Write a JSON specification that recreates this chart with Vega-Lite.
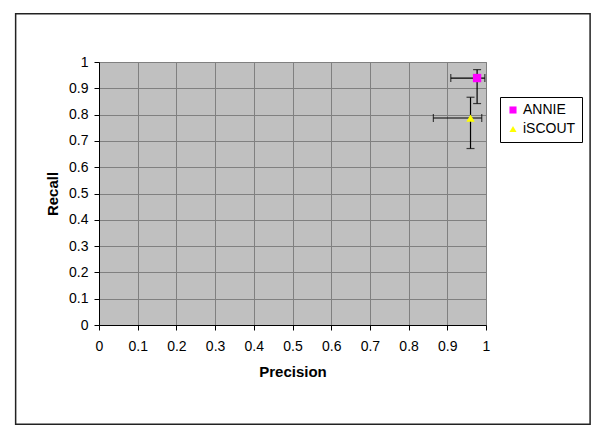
{
  "$schema": "https://vega.github.io/schema/vega-lite/v6.json",
  "width": 387,
  "height": 263,
  "autosize": {"type": "none"},
  "padding": {"left": 99, "top": 62, "right": 114, "bottom": 110},
  "background": "white",
  "config": {
    "font": "Liberation Sans",
    "view": {"fill": "#C0C0C0", "stroke": "#808080", "strokeWidth": 1},
    "axis": {
      "labelFont": "Liberation Sans",
      "labelFontSize": 14,
      "labelColor": "black",
      "titleFont": "Liberation Sans",
      "titleFontSize": 15,
      "titleFontWeight": "bold",
      "titleColor": "black",
      "domainColor": "black",
      "domainWidth": 1,
      "tickColor": "black",
      "tickSize": 5,
      "grid": true,
      "gridColor": "#808080",
      "gridWidth": 1,
      "gridOpacity": 1,
      "labelOverlap": false
    }
  },
  "data": {
    "values": [
      {"system": "ANNIE", "precision": 0.977, "recall": 0.939, "pLow": 0.909, "pHigh": 0.997, "rLow": 0.842, "rHigh": 0.971},
      {"system": "iSCOUT", "precision": 0.960, "recall": 0.787, "pLow": 0.864, "pHigh": 0.989, "rLow": 0.671, "rHigh": 0.866}
    ]
  },
  "encoding": {
    "x": {"type": "quantitative",
      "scale": {"domain": [0, 1], "nice": false, "zero": false},
      "axis": {"title": "Precision", "grid": true, "values": [0, 0.1, 0.2, 0.3, 0.4, 0.5, 0.6, 0.7, 0.8, 0.9, 1], "format": "~g", "labelPadding": 9, "titlePadding": 11, "labelFlush": false}},
    "y": {"type": "quantitative",
      "scale": {"domain": [0, 1], "nice": false, "zero": false},
      "axis": {"title": "Recall", "grid": true, "values": [0, 0.1, 0.2, 0.3, 0.4, 0.5, 0.6, 0.7, 0.8, 0.9, 1], "format": "~g", "labelPadding": 6, "titlePadding": 8, "labelFlush": false}}
  },
  "layer": [
    {
      "mark": {"type": "rule", "color": "black", "strokeWidth": 1.2},
      "encoding": {
        "x": {"field": "pLow"},
        "x2": {"field": "pHigh"},
        "y": {"field": "recall"}
      }
    },
    {
      "mark": {"type": "rule", "color": "black", "strokeWidth": 1.2},
      "encoding": {
        "x": {"field": "precision"},
        "y": {"field": "rLow"},
        "y2": {"field": "rHigh"}
      }
    },
    {
      "mark": {"type": "tick", "orient": "vertical", "color": "black", "size": 8, "thickness": 1.2},
      "encoding": {
        "x": {"field": "pLow"},
        "y": {"field": "recall"}
      }
    },
    {
      "mark": {"type": "tick", "orient": "vertical", "color": "black", "size": 8, "thickness": 1.2},
      "encoding": {
        "x": {"field": "pHigh"},
        "y": {"field": "recall"}
      }
    },
    {
      "mark": {"type": "tick", "orient": "horizontal", "color": "black", "size": 8, "thickness": 1.2},
      "encoding": {
        "x": {"field": "precision"},
        "y": {"field": "rLow"}
      }
    },
    {
      "mark": {"type": "tick", "orient": "horizontal", "color": "black", "size": 8, "thickness": 1.2},
      "encoding": {
        "x": {"field": "precision"},
        "y": {"field": "rHigh"}
      }
    },
    {
      "mark": {"type": "point", "filled": true, "opacity": 1, "strokeWidth": 0},
      "encoding": {
        "x": {"field": "precision"},
        "y": {"field": "recall"},
        "color": {"field": "system", "type": "nominal",
          "scale": {"domain": ["ANNIE", "iSCOUT"], "range": ["#FF00FF", "#FFFF00"]},
          "legend": {"title": null, "orient": "none", "legendX": 401, "legendY": 35,
            "fillColor": "white", "strokeColor": "black", "padding": 6,
            "labelFont": "Liberation Sans", "labelFontSize": 14, "labelColor": "black",
            "symbolSize": 50, "symbolStrokeWidth": 0, "rowPadding": 5, "labelOffset": 3}},
        "shape": {"field": "system", "type": "nominal",
          "scale": {"domain": ["ANNIE", "iSCOUT"], "range": ["square", "triangle-up"]}},
        "size": {"value": 70}
      }
    },
    {
      "data": {"values": [{}]},
      "mark": {"type": "rect", "fill": null, "fillOpacity": 0, "stroke": "#222222", "strokeWidth": 1.5},
      "encoding": {
        "x": {"datum": -0.2154, "type": "quantitative",
          "scale": {"domain": [0, 1], "nice": false, "zero": false},
          "axis": {"title": "Precision", "grid": true, "values": [0, 0.1, 0.2, 0.3, 0.4, 0.5, 0.6, 0.7, 0.8, 0.9, 1], "format": "~g", "labelPadding": 9, "titlePadding": 11, "labelFlush": false}},
        "x2": {"datum": 1.269},
        "y": {"datum": 1.183, "type": "quantitative",
          "scale": {"domain": [0, 1], "nice": false, "zero": false},
          "axis": {"title": "Recall", "grid": true, "values": [0, 0.1, 0.2, 0.3, 0.4, 0.5, 0.6, 0.7, 0.8, 0.9, 1], "format": "~g", "labelPadding": 6, "titlePadding": 8, "labelFlush": false}},
        "y2": {"datum": -0.377}
      }
    }
  ]
}
